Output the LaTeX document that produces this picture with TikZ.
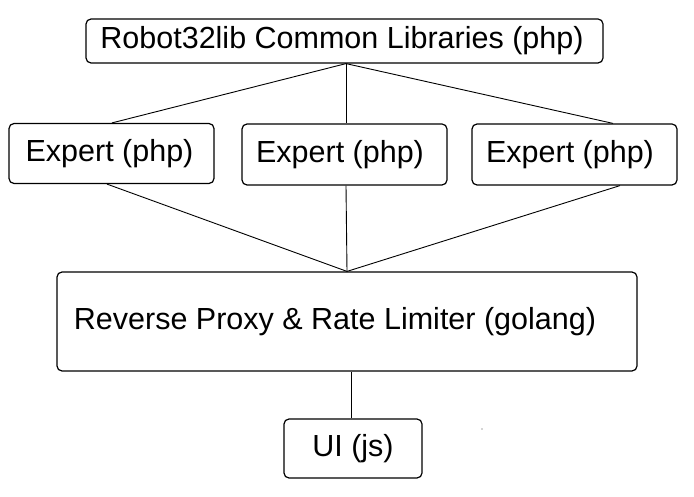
\documentclass[tikz,border=0pt]{standalone}
\usepackage{fontspec}
\setmainfont{Liberation Sans}
\usetikzlibrary{calc}
\begin{document}
\begin{tikzpicture}[x=1pt,y=-1pt,
  box/.style={draw=black, line width=1.2pt, rounded corners=5pt, inner sep=0pt,
    font=\fontsize{30.5pt}{36pt}\selectfont, fill=white},
  link/.style={draw=black, line width=0.9pt}]
\useasboundingbox[fill=white] (0,0) rectangle (694,497);
\node[box, minimum width=517pt, minimum height=44pt] (top) at (344.5,41) {\hspace*{-5pt}Robot32lib Common Libraries (php)};
\node[box, minimum width=205pt, minimum height=60pt] (e1) at (111.5,153.5) {\hspace*{-4pt}Expert (php)};
\node[box, minimum width=205pt, minimum height=61pt] (e2) at (344.5,154.5) {\hspace*{-9pt}Expert (php)};
\node[box, minimum width=205pt, minimum height=61pt] (e3) at (574.5,154.5) {\hspace*{-9pt}Expert (php)};
\node[box, minimum width=580pt, minimum height=99pt] (proxy) at (347,321.5) {\hspace*{-24pt}Reverse Proxy \& Rate Limiter (golang)};
\node[box, minimum width=138pt, minimum height=59pt] (ui) at (353,448.5) {UI (js)};
\coordinate (hub) at ([xshift=1.5pt]top.south);
\draw[link] (hub) -- ([xshift=0.5pt]e1.north);
\draw[link] (hub) -- ([xshift=1.5pt]e2.north);
\draw[link] (hub) -- ([xshift=38.5pt]e3.north);
\draw[link] ([xshift=-4.5pt]e1.south) -- (proxy.north);
\draw[link] ([xshift=1.5pt]e2.south) -- (proxy.north);
\draw[link] ([xshift=45.5pt]e3.south) -- (proxy.north);
\draw[link] ([xshift=-2pt]ui.north) -- ([xshift=-2pt]ui.north |- proxy.south);
\fill[black!70] (482,429) circle (0.6pt);
\end{tikzpicture}
\end{document}
